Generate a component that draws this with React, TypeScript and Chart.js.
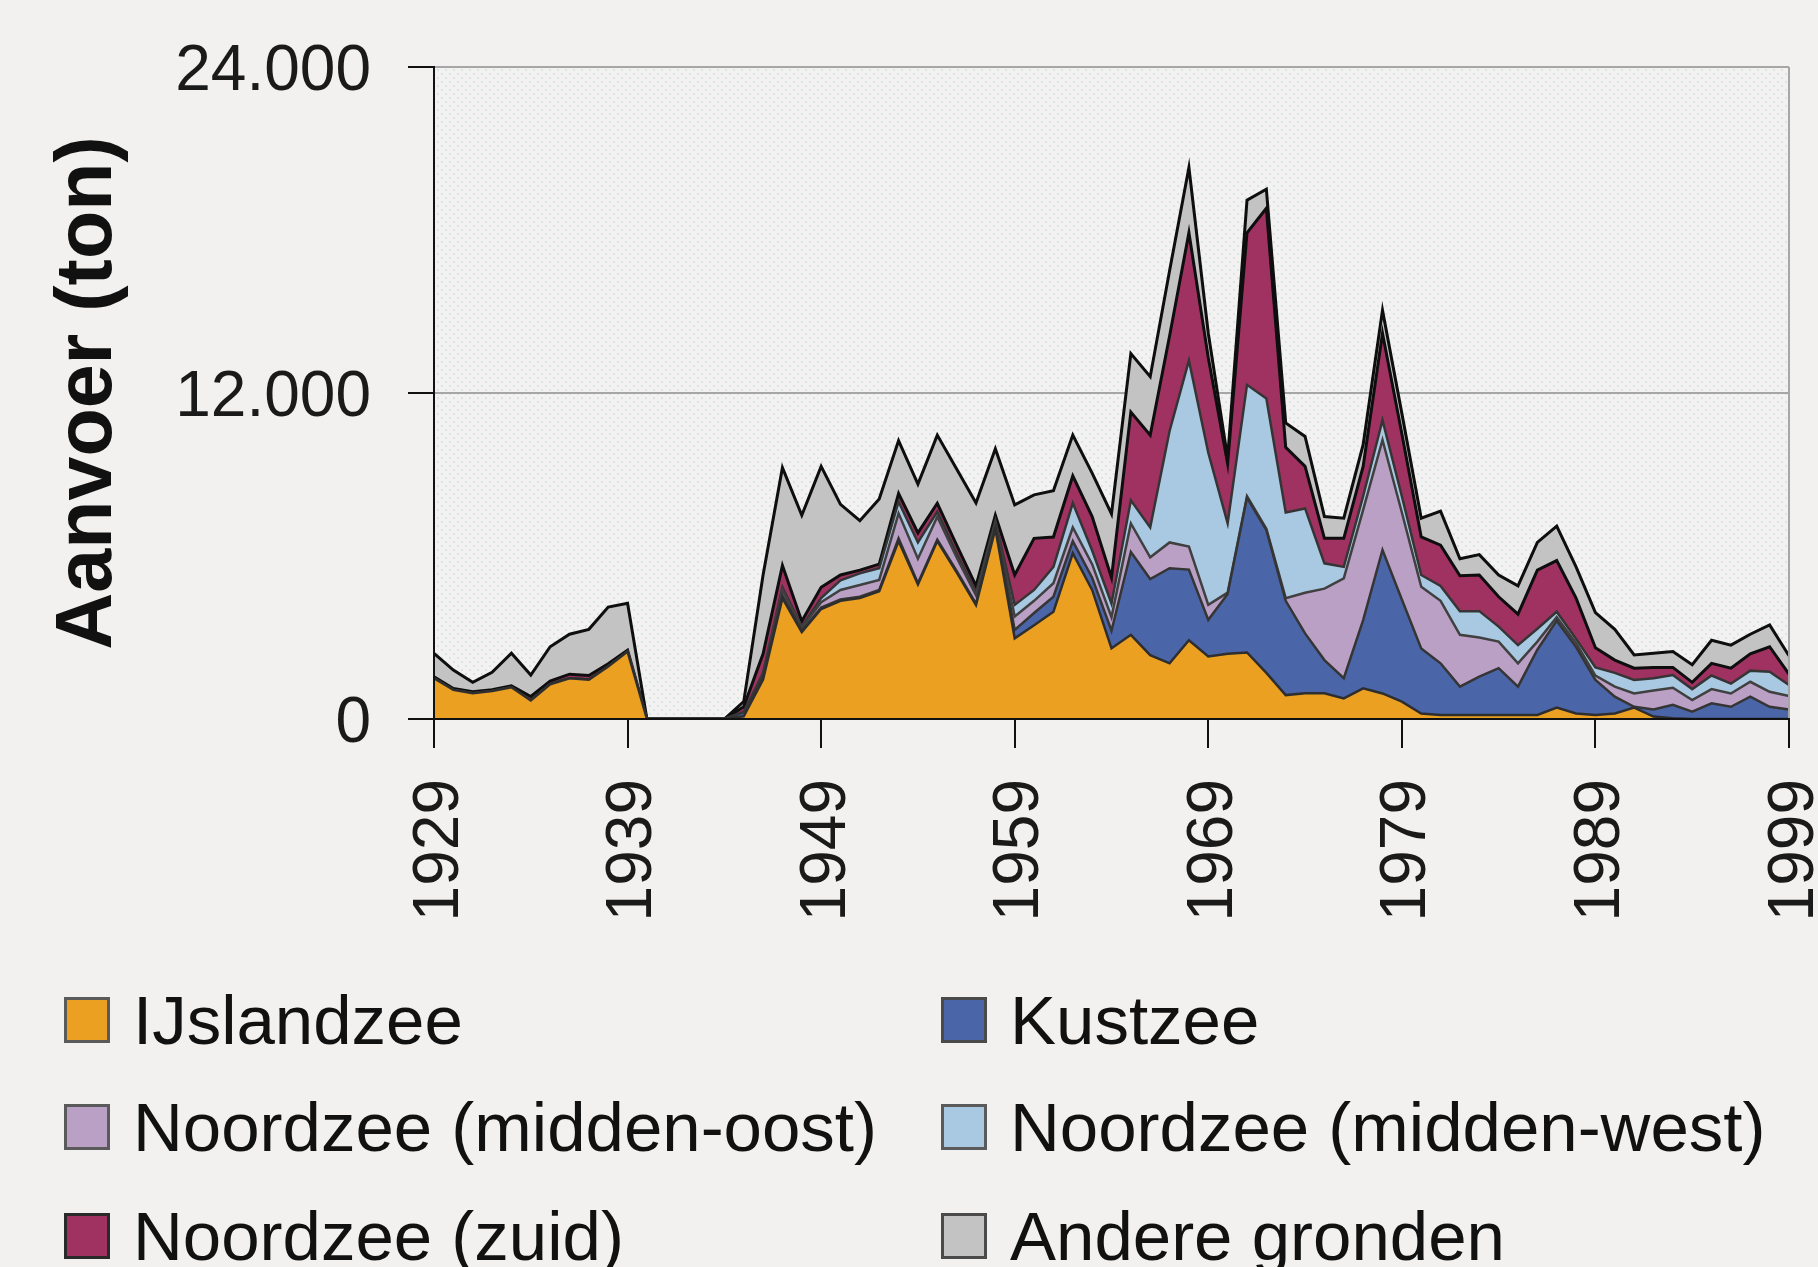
import React, { useEffect, useRef } from 'react';
import { Chart, registerables } from 'chart.js';

Chart.register(...registerables);

// ---------- data (ton per year) ----------
const years = [
  '1929', '1930', '1931', '1932', '1933', '1934', '1935', '1936', '1937', '1938',
  '1939', '1940', '1941', '1942', '1943', '1944', '1945', '1946', '1947', '1948',
  '1949', '1950', '1951', '1952', '1953', '1954', '1955', '1956', '1957', '1958',
  '1959', '1960', '1961', '1962', '1963', '1964', '1965', '1966', '1967', '1968',
  '1969', '1970', '1971', '1972', '1973', '1974', '1975', '1976', '1977', '1978',
  '1979', '1980', '1981', '1982', '1983', '1984', '1985', '1986', '1987', '1988',
  '1989', '1990', '1991', '1992', '1993', '1994', '1995', '1996', '1997', '1998',
  '1999',
];

const ijslandzee = [
  1500, 1070, 950, 1030, 1170, 680, 1280, 1500, 1450, 1930,
  2480, 0, 0, 0, 0, 0, 100, 1450, 4450, 3200,
  4050, 4350, 4450, 4700, 6550, 4950, 6550, 5400, 4200, 7000,
  2970, 3450, 3950, 6100, 4750, 2600, 3100, 2350, 2050, 2900,
  2300, 2400, 2450, 1700, 880, 950, 950, 760, 1130, 940,
  640, 200, 150, 150, 150, 150, 150, 150, 420, 200,
  150, 200, 420, 90, 30, 0, 0, 0, 0, 0,
  0,
];

const kustzee = [
  0, 0, 0, 0, 0, 0, 0, 0, 0, 0,
  0, 0, 0, 0, 0, 0, 150, 150, 100, 50,
  50, 50, 50, 50, 100, 50, 50, 50, 50, 100,
  310, 450, 550, 450, 450, 650, 3050, 2800, 3500, 2600,
  1350, 2200, 5700, 5250, 3470, 2200, 1220, 740, 2510, 5280,
  3760, 2400, 1900, 1040, 1410, 1720, 1040, 2400, 3200, 2450,
  1290, 620, 30, 260, 490, 270, 580, 450, 820, 450,
  350,
];

const noordzeeMiddenOost = [
  0, 0, 0, 0, 0, 0, 0, 0, 0, 0,
  0, 0, 0, 0, 0, 0, 0, 50, 200, 100,
  200, 350, 430, 370, 920, 900, 850, 500, 300, 100,
  490, 450, 500, 500, 500, 500, 1050, 800, 950, 850,
  550, 50, 50, 50, 100, 1500, 2630, 3680, 4060, 4050,
  3200, 2270, 2300, 1910, 1440, 980, 860, 300, 130, 150,
  160, 370, 490, 700, 630, 430, 520, 490, 550, 550,
  500,
];

const noordzeeMiddenWest = [
  0, 0, 0, 0, 0, 0, 0, 0, 0, 0,
  0, 0, 0, 0, 0, 0, 0, 50, 100, 50,
  150, 350, 430, 430, 430, 600, 180, 150, 100, 100,
  430, 400, 600, 900, 500, 500, 850, 1100, 4100, 6850,
  5600, 2550, 4100, 4800, 3150, 3100, 930, 420, 500, 730,
  600, 430, 550, 870, 970, 550, 670, 470, 200, 150,
  300, 510, 500, 450, 470, 400, 500, 360, 410, 740,
  400,
];

const noordzeeZuid = [
  50, 50, 50, 50, 50, 150, 120, 150, 150, 100,
  50, 0, 0, 0, 0, 0, 200, 700, 800, 200,
  400, 200, 120, 150, 300, 350, 310, 300, 250, 200,
  1100, 1900, 1100, 1000, 1250, 950, 3250, 3400, 3500, 4700,
  3500, 2200, 5600, 7000, 2400, 1550, 920, 1050, 1100, 3200,
  2300, 1400, 1500, 1300, 1330, 1100, 1140, 2160, 1880, 1500,
  720, 470, 430, 400, 280, 250, 450, 570, 620, 920,
  400,
];

const andereGronden = [
  870, 680, 350, 640, 1200, 790, 1260, 1470, 1700, 2090,
  1730, 0, 0, 0, 0, 0, 190, 2900, 3600, 3900,
  4450, 2600, 1820, 2400, 1950, 1800, 2510, 2800, 3050, 2450,
  2580, 1600, 1700, 1500, 1600, 2350, 2150, 2150, 2400, 2400,
  900, 200, 1200, 700, 900, 1100, 800, 740, 800, 850,
  750, 690, 1250, 630, 750, 800, 1040, 1020, 1270, 1150,
  1300, 1130, 490, 520, 580, 650, 850, 850, 720, 800,
  680,
];

const yTickValues = [0, 12000, 24000];
const xTickLabels = ['1929', '1939', '1949', '1959', '1969', '1979', '1989', '1999'];

const seriesLabels = [
  'IJslandzee',
  'Kustzee',
  'Noordzee (midden-oost)',
  'Noordzee (midden-west)',
  'Noordzee (zuid)',
  'Andere gronden',
];
const seriesData = [ijslandzee, kustzee, noordzeeMiddenOost, noordzeeMiddenWest, noordzeeZuid, andereGronden];
const seriesColors = ['#EBA022', '#4A66A8', '#BBA0C6', '#A9C9E2', '#A03262', '#C4C3C3'];
const seriesBorders = ['#2e2e2e', '#353535', '#404040', '#353535', '#0e0e0e', '#0e0e0e'];
const seriesBorderWidths = [2.5, 2.5, 2.5, 2.5, 3, 3];
const legendBorders = ['#5a5a5a', '#4a4a4a', '#5a5a5a', '#5a5a5a', '#2a2a2a', '#4a4a4a'];

const PAGE_BG = '#f2f1ef';
const FONT = "'Liberation Sans', Arial, sans-serif";

const formatNl = (v: number) => String(v).replace(/\B(?=(\d{3})+(?!\d))/g, '.');

const plotBackground = {
  id: 'plotBackground',
  beforeDraw(chart: any) {
    const { ctx, chartArea: a } = chart;
    ctx.save();
    ctx.fillStyle = PAGE_BG;
    ctx.fillRect(0, 0, chart.width, chart.height);
    const pc = document.createElement('canvas');
    pc.width = 8;
    pc.height = 8;
    const p = pc.getContext('2d')!;
    p.fillStyle = '#f3f2f0';
    p.fillRect(0, 0, 8, 8);
    p.fillStyle = '#d4e6ea';
    p.fillRect(1, 1, 2, 2);
    p.fillRect(5, 5, 2, 2);
    const pat = ctx.createPattern(pc, 'repeat');
    if (pat) ctx.fillStyle = pat;
    ctx.fillRect(a.left, a.top, a.right - a.left, a.bottom - a.top);
    ctx.restore();
  },
  afterDatasetsDraw(chart: any) {
    const { ctx, chartArea: a } = chart;
    ctx.save();
    ctx.strokeStyle = '#a6a6a6';
    ctx.lineWidth = 2;
    ctx.beginPath();
    ctx.moveTo(a.right, a.top);
    ctx.lineTo(a.right, a.bottom);
    ctx.stroke();
    ctx.restore();
  },
};

export default function App() {
  const ref = useRef<HTMLCanvasElement>(null);

  useEffect(() => {
    document.body.style.margin = '0';
    document.body.style.background = PAGE_BG;
    const canvas = ref.current;
    if (!canvas) return;

    const datasets = seriesLabels.map((label, i) => ({
      label,
      data: seriesData[i],
      backgroundColor: seriesColors[i],
      borderColor: seriesBorders[i],
      borderWidth: seriesBorderWidths[i],
      borderJoinStyle: 'miter',
      fill: i === 0 ? 'origin' : '-1',
      pointRadius: 0,
      pointHoverRadius: 0,
      tension: 0,
    }));

    const chart = new Chart(canvas, {
      type: 'line',
      data: { labels: years, datasets: datasets as any },
      plugins: [plotBackground],
      options: {
        responsive: false,
        animation: false,
        devicePixelRatio: 1,
        events: [],
        layout: { padding: { left: 0, right: 29, top: 67, bottom: 0 } },
        plugins: {
          legend: { display: false },
          tooltip: { enabled: false },
        },
        scales: {
          x: {
            type: 'category',
            offset: false,
            grid: {
              drawOnChartArea: false,
              drawTicks: true,
              tickLength: 29,
              tickWidth: 2,
              lineWidth: 2,
              tickColor: (c: any) =>
                xTickLabels.includes(years[c.index]) ? '#111111' : 'rgba(0,0,0,0)',
              color: 'rgba(0,0,0,0)',
            },
            border: { display: true, color: '#111111', width: 2, z: 1 },
            ticks: {
              autoSkip: false,
              maxRotation: 90,
              minRotation: 90,
              padding: 31,
              labelOffset: 6,
              color: '#1a1a1a',
              font: { family: FONT, size: 64 },
              callback: (_v: any, idx: number) =>
                xTickLabels.includes(years[idx]) ? years[idx] : '',
            },
            afterFit: (s: any) => {
              s.height = 241;
              s.paddingLeft = 0;
              s.paddingRight = 0;
            },
          },
          y: {
            stacked: true,
            min: 0,
            max: 24000,
            grid: {
              drawTicks: true,
              tickLength: 26,
              tickWidth: 2,
              lineWidth: 2,
              tickColor: '#111111',
              color: (c: any) => (c.tick && c.tick.value === 0 ? 'rgba(0,0,0,0)' : '#a6a6a6'),
            },
            border: { display: true, color: '#111111', width: 2, z: 1 },
            ticks: {
              padding: 37,
              labelOffset: 5,
              color: '#1a1a1a',
              font: { family: FONT, size: 64 },
              callback: (v: any) => formatNl(Number(v)),
            },
            afterBuildTicks: (s: any) => {
              s.ticks = yTickValues.map((v) => ({ value: v }));
            },
            title: {
              display: true,
              text: 'Aanvoer (ton)',
              color: '#111111',
              font: { family: FONT, size: 79, weight: 'bold', lineHeight: 1.2 },
              padding: { top: 42, bottom: 0 },
            },
            afterFit: (s: any) => {
              s.width = 434;
              s.paddingTop = 0;
              s.paddingBottom = 0;
            },
          },
        },
      } as any,
    });

    return () => chart.destroy();
  }, []);

  const colX = [64, 941];
  const rowC = [1020, 1127, 1236];

  return (
    <div
      style={{
        position: 'absolute',
        left: 0,
        top: 0,
        width: 1818,
        height: 1267,
        overflow: 'hidden',
        background: PAGE_BG,
        fontFamily: FONT,
      }}
    >
      <canvas ref={ref} width={1818} height={960} style={{ position: 'absolute', left: 0, top: 0 }} />
      {seriesLabels.map((label, i) => {
        const col = i % 2;
        const row = Math.floor(i / 2);
        return (
          <div
            key={label}
            style={{
              position: 'absolute',
              left: colX[col],
              top: rowC[row] - 34.5,
              height: 69,
              display: 'flex',
              alignItems: 'center',
              whiteSpace: 'nowrap',
            }}
          >
            <div
              style={{
                width: 46,
                height: 46,
                boxSizing: 'border-box',
                border: `3px solid ${legendBorders[i]}`,
                background: seriesColors[i],
                marginRight: 23,
                flex: '0 0 auto',
              }}
            />
            <span style={{ fontSize: 69, lineHeight: '69px', color: '#111111' }}>{label}</span>
          </div>
        );
      })}
    </div>
  );
}
